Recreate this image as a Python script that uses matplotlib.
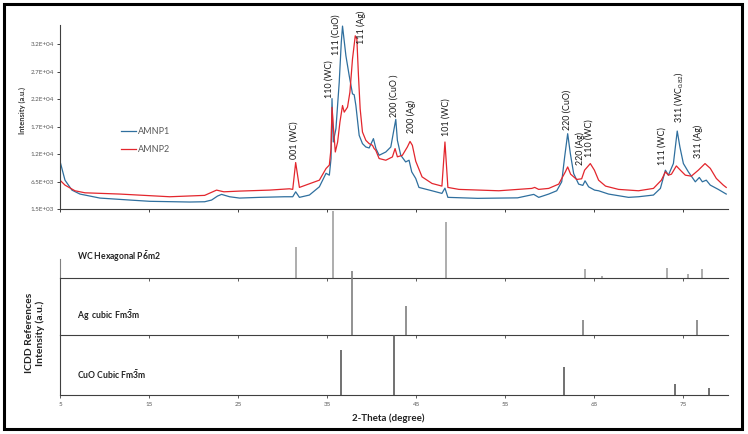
import matplotlib
matplotlib.use('Agg')
import matplotlib.pyplot as plt
from matplotlib.patches import Rectangle

plt.rcParams['font.family'] = ['Lato', 'DejaVu Sans']
plt.rcParams['mathtext.fontset'] = 'custom'
plt.rcParams['mathtext.rm'] = 'Lato'
plt.rcParams['mathtext.it'] = 'Lato:italic'
plt.rcParams['mathtext.bf'] = 'Lato:bold'

# ---------------- data ----------------
amnp1_theta = [5.00, 5.56, 6.34, 7.24, 9.48, 12.84, 15.08, 19.56, 21.24, 22.02, 22.69, 23.14,
               24.04, 25.16, 27.40, 30.20, 31.13, 31.46, 31.88, 33.00, 34.12, 34.87, 35.24,
               35.43, 35.54, 35.68, 35.98, 36.35, 36.58, 36.72, 37.10, 37.47, 37.84, 38.03,
               38.22, 38.59, 38.96, 39.34, 39.71, 40.19, 40.47, 40.83, 41.58, 42.14, 42.51,
               42.70, 42.88, 43.26, 43.81, 44.19, 44.49, 44.94, 45.30, 46.76, 47.88, 48.22,
               48.55, 51.90, 56.37, 58.19, 58.75, 59.87, 60.77, 61.33, 61.66, 62.00, 62.30,
               62.67, 63.23, 63.70, 63.95, 64.35, 65.02, 65.47, 66.59, 68.83, 69.95, 71.63,
               72.41, 72.97, 73.31, 73.87, 74.30, 74.60, 74.99, 75.55, 76.33, 76.78, 77.12,
               77.56, 78.01, 78.91, 79.80]
amnp1_int = [10200, 6750, 4940, 4220, 3490, 3130, 2900, 2770, 2820, 3130, 3860, 4160,
             3730, 3490, 3620, 3730, 3730, 4630, 3620, 4040, 5540, 8000, 7660,
             10690, 21600, 13700, 16120, 24570, 31810, 34800, 29400, 25780, 22460, 22300,
             20340, 14910, 13400, 12790, 12610, 14310, 12500, 11280, 11880, 12790, 16120,
             17810, 14000, 11280, 10070, 10380, 8260, 7060, 5430, 4820, 4340, 5300,
             3620, 3440, 3530, 4160, 3620, 4220, 4820, 6450, 10980, 15210, 11580,
             7960, 6030, 5800, 6630, 5540, 4940, 4820, 4220, 3620, 3730, 4040,
             5250, 8570, 7660, 9780, 15690, 12790, 9780, 8260, 6450, 7240, 6450,
             6750, 5850, 5070, 4220]

amnp2_theta = [5.00, 5.56, 6.68, 7.80, 11.72, 17.32, 21.24, 22.58, 23.40, 25.16, 28.52, 30.76,
               31.13, 31.46, 31.88, 34.12, 34.87, 35.24, 35.43, 35.54, 35.68, 35.91, 36.17,
               36.43, 36.72, 36.91, 37.28, 37.55, 37.84, 38.15, 38.33, 38.51, 38.70, 38.96,
               39.34, 39.71, 40.08, 40.27, 40.45, 40.83, 41.58, 42.32, 42.62, 42.88, 43.44,
               44.00, 44.30, 44.56, 44.94, 45.65, 46.77, 47.88, 48.22, 48.55, 49.79, 54.27,
               57.97, 58.30, 58.74, 59.87, 60.99, 61.74, 62.00, 62.33, 63.01, 63.57, 63.90,
               64.54, 65.00, 65.47, 66.25, 67.71, 69.95, 71.63, 72.52, 72.97, 73.31, 73.65,
               74.20, 74.65, 75.21, 75.88, 76.67, 77.42, 78.01, 78.69, 79.47, 79.80]
amnp2_int = [6750, 5850, 4820, 4450, 4220, 3730, 3980, 4940, 4630, 4760, 4940, 5180,
             5070, 9960, 5430, 6750, 8870, 9500, 12500, 20000, 16720, 11880, 13700,
             17320, 20340, 19130, 20040, 22760, 28810, 33030, 32430, 25780, 19750, 15510,
             14000, 13400, 13100, 12500, 12190, 10690, 10380, 10980, 12500, 11000, 11280,
             12790, 13800, 13100, 10200, 7350, 6150, 5670, 13700, 5430, 5070, 4820,
             5250, 5430, 5070, 5250, 6030, 8260, 9160, 7840, 6880, 7000, 8570,
             9770, 8570, 6750, 5670, 5070, 4820, 5250, 6750, 8260, 7660, 7840,
             9340, 8570, 7660, 7480, 8570, 9770, 8900, 7060, 5850, 5430]

series_names = ['AMNP1', 'AMNP2']

y_ticks = [1500, 6500, 11500, 16500, 21500, 26500, 31500]
y_tick_labels = ['1.5E+03', '6.5E+03', '1.2E+04', '1.7E+04', '2.2E+04', '2.7E+04', '3.2E+04']
x_ticks = [5, 15, 25, 35, 45, 55, 65, 75]
x_tick_labels = ['5', '15', '25', '35', '45', '55', '65', '75']

peak_labels = ['001 (WC)', '110 (WC)', '111 (CuO)', '111 (Ag)', '200 (CuO )', '200 (Ag)',
               '101 (WC)', '220 (CuO)', '220 (Ag)', '110 (WC)', '111 (WC)',
               '311 (WC$_{\\mathregular{0.82}}$)', '311 (Ag)']
peak_label_theta = [31.3, 35.2, 36.05, 38.8, 42.5, 44.4, 48.4, 61.9, 63.4, 64.4, 72.6, 74.4, 76.7]
peak_label_int = [10560, 21790, 29590, 31580, 18170, 15270, 14730, 15810, 9470, 10920, 9470, 17080, 10740]

wc_name = 'WC Hexagonal P$\\mathbf{\\bar{6}}$m2'
wc_theta = [31.5, 35.7, 48.3, 64.0, 65.8, 73.1, 75.5, 77.1]
wc_rel = [45, 97, 81, 13, 3, 14, 6, 13]
ag_name = 'Ag  cubic Fm$\\mathbf{\\bar{3}}$m'
ag_theta = [37.75, 43.9, 63.7, 76.5]
ag_rel = [112, 51, 26, 26]
cuo_name = 'CuO Cubic Fm$\\mathbf{\\bar{3}}$m'
cuo_theta = [36.6, 42.5, 61.6, 74.0, 77.9]
cuo_rel = [75, 100, 47, 18, 12]

# ---------------- figure ----------------
W, H = 748, 434
fig = plt.figure(figsize=(W / 100, H / 100), dpi=100)


def rect(x0, y_top, x1, y_bot):
    return [x0 / W, 1 - y_bot / H, (x1 - x0) / W, (y_bot - y_top) / H]


blue = '#2f6f9e'
red = '#e3262d'
axis_col = '#404040'
tick_col = '#595959'

ax = fig.add_axes(rect(60, 25, 728, 209))
ax.set_facecolor('none')
ax.plot(amnp1_theta, amnp1_int, color=blue, lw=0.9, label=series_names[0])
ax.plot(amnp2_theta, amnp2_int, color=red, lw=0.9, label=series_names[1])
ax.set_xlim(5, 80)
ax.set_ylim(1500, 35000)
ax.set_yticks(y_ticks)
ax.set_yticklabels(y_tick_labels, fontsize=4.5, color=tick_col)
ax.set_xticks(x_ticks)
ax.set_xticklabels([])
for s in ['top', 'right']:
    ax.spines[s].set_visible(False)
for s in ['left', 'bottom']:
    ax.spines[s].set_color(axis_col)
    ax.spines[s].set_linewidth(0.8)
ax.tick_params(axis='both', direction='out', length=2.5, width=0.7, color=axis_col, pad=2)

for s, x, y in zip(peak_labels, peak_label_theta, peak_label_int):
    ax.text(x, y, s, rotation=90, ha='center', va='bottom', fontsize=6.4, color='#1a1a1a')

leg = ax.legend(loc='upper left', bbox_to_anchor=(0.092, 0.445), frameon=False,
                fontsize=6.5, handlelength=1.6, handletextpad=0.25, labelspacing=1.0,
                borderpad=0, borderaxespad=0)
for t in leg.get_texts():
    t.set_color(tick_col)

fig.text(22 / W, 1 - 110 / H, 'Intensity (a.u.)', rotation=90, ha='center', va='center',
         fontweight='bold', fontsize=5.4, color='#333333')

# ---------------- stick panels ----------------
panels = [
    (209, 278, wc_theta, wc_rel, '#a0a0a0', wc_name, 257),
    (278, 335, ag_theta, ag_rel, '#7f7f7f', ag_name, 316),
    (335, 395, cuo_theta, cuo_rel, '#595959', cuo_name, 375),
]
for i, (top, bot, th, rel, col, name, ly) in enumerate(panels):
    pa = fig.add_axes(rect(60, top, 728, bot))
    pa.set_facecolor('none')
    pa.vlines(th, 0, rel, colors=col, lw=1.2, clip_on=False)
    pa.set_xlim(5, 80)
    pa.set_ylim(0, 100)
    pa.set_yticks([])
    pa.set_xticks(x_ticks)
    for s in ['top', 'right']:
        pa.spines[s].set_visible(False)
    pa.spines['bottom'].set_color(axis_col)
    pa.spines['bottom'].set_linewidth(0.8)
    pa.spines['left'].set_color(axis_col if i > 0 else '#808080')
    pa.spines['left'].set_linewidth(0.8)
    if i == 0:
        pa.spines['left'].set_bounds(0, 28)
    pa.tick_params(axis='x', direction='out', length=2, width=0.6, color=axis_col, pad=3)
    if i == 2:
        pa.set_xticklabels(x_tick_labels, fontsize=4.5, color=tick_col)
    else:
        pa.set_xticklabels([])
    fig.text(77 / W, 1 - ly / H, name, ha='left', va='center', fontweight='bold',
             fontsize=6.2, color='#222222')

fig.text(35 / W, 1 - 333 / H, 'ICDD References\nIntensity (a.u.)', rotation=90,
         ha='center', va='center', fontweight='bold', fontsize=7.5, linespacing=1.25,
         color='#222222')
fig.text(388 / W, 1 - 418 / H, '2-Theta (degree)', ha='center', va='center',
         fontweight='bold', fontsize=7, color='#222222')

fig.add_artist(Rectangle((4 / W, 5 / H), 738 / W, 425 / H, transform=fig.transFigure,
                         fill=False, lw=2.2, ec='black'))

fig.savefig('out.png', dpi=100)
